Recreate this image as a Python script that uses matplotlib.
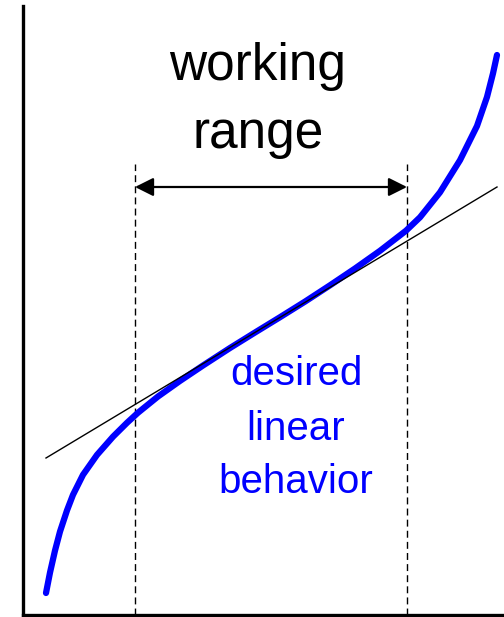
import matplotlib
matplotlib.use('Agg')
import matplotlib.pyplot as plt

plt.rcParams['font.family'] = ['Liberation Sans', 'DejaVu Sans']

# blue response curve
curve_x = [23, 27, 32, 37, 44, 50, 60, 74, 90, 104, 115, 135, 157, 180, 207, 232,
           257, 282, 307, 332, 357, 383, 397, 417, 437, 454, 464, 470, 474]
curve_y = [22, 42.4, 64.4, 83.4, 104.6, 120.2, 140.2, 160.1, 178.3, 192.2, 202.3, 218.5, 234.1, 249.5, 267.0, 282.5,
           297.8, 313.4, 329.7, 346.5, 364.2, 384.3, 397.7, 422.7, 454.8, 489, 518, 541.6, 560]

# straight reference line
line_x = [23, 474]
line_y = [157, 428]

# working range limits
range_lo = 112
range_hi = 384
range_top = 451
arrow_y = 428

fig = plt.figure(figsize=(5.04, 6.17), dpi=100)
ax = fig.add_axes([23 / 504, 2 / 617, 481 / 504, 609 / 617])
ax.set_xlim(0, 481)
ax.set_ylim(0, 609)

ax.plot(curve_x, curve_y, color='blue', lw=4.5, solid_capstyle='round', solid_joinstyle='round', zorder=3)
ax.plot(line_x, line_y, color='black', lw=1.0, zorder=4)

for xv in (range_lo, range_hi):
    ax.plot([xv, xv], [0, range_top], color='black', lw=1.0, ls=(0, (5, 3)), zorder=2)

ax.annotate('', xy=(range_lo, arrow_y), xytext=(range_hi, arrow_y),
            arrowprops=dict(arrowstyle='<|-|>', color='black', lw=1.6,
                            mutation_scale=28, shrinkA=0, shrinkB=0))

ax.text(235, 535, 'working', ha='center', va='baseline', fontsize=37)
ax.text(235, 467, 'range', ha='center', va='baseline', fontsize=37)

ax.text(273, 230, 'desired', ha='center', va='baseline', fontsize=29, color='blue')
ax.text(273, 175, 'linear', ha='center', va='baseline', fontsize=29, color='blue')
ax.text(273, 122, 'behavior', ha='center', va='baseline', fontsize=29, color='blue')

for s in ('top', 'right'):
    ax.spines[s].set_visible(False)
ax.spines['left'].set_linewidth(2.4)
ax.spines['bottom'].set_linewidth(2.4)
ax.set_xticks([])
ax.set_yticks([])

fig.savefig('out.png', dpi=100)
